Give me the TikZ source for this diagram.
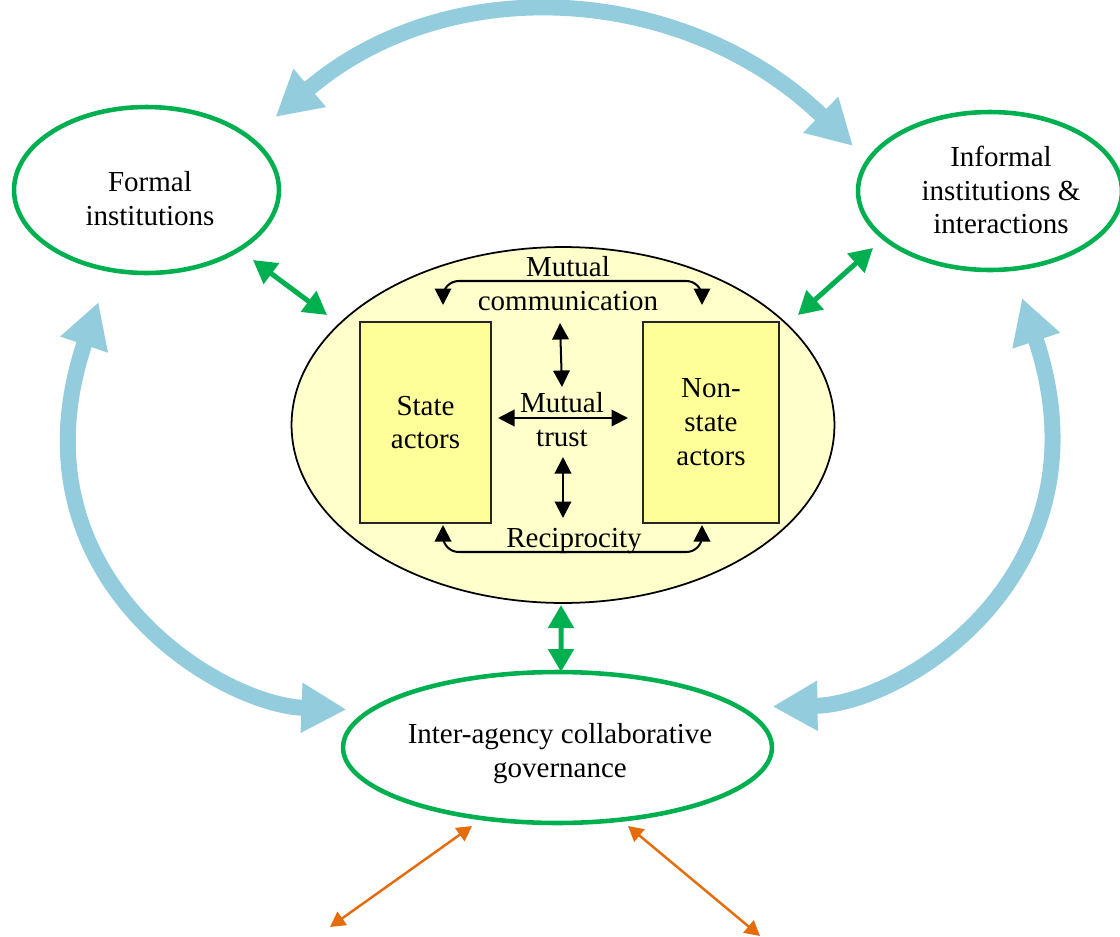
\documentclass[tikz,border=0pt]{standalone}
\usepackage{fontspec}
\setmainfont{Liberation Serif}
\usetikzlibrary{arrows.meta,shapes.geometric}
\definecolor{linkblue}{HTML}{93CDDD}
\definecolor{ringgreen}{HTML}{00B050}
\definecolor{outorange}{HTML}{E46C0A}
\definecolor{corefill}{HTML}{FFFFCC}
\definecolor{actorfill}{HTML}{FFFF99}
\begin{document}
\begin{tikzpicture}[x=0.02cm,y=-0.02cm,
  every node/.style={font=\fontsize{16.5}{19.3}\selectfont},
  ring/.style={ellipse, draw=ringgreen, line width=2.6pt, inner sep=0pt},
  lbl/.style={align=center, inner sep=0pt},
  actor/.style={rectangle, draw=black!85, line width=0.9pt, fill=actorfill, align=center, inner sep=0pt},
  bigarrow/.style={draw=linkblue, line width=9.1pt, {Triangle[length=0.9cm,width=0.94cm]}-{Triangle[length=0.9cm,width=0.94cm]}},
  greenarrow/.style={draw=ringgreen, line width=2.85pt, {Triangle[length=0.46cm,width=0.5cm]}-{Triangle[length=0.46cm,width=0.5cm]}},
  outarrow/.style={draw=outorange, line width=1.4pt, {Triangle[length=0.3cm,width=0.32cm]}-{Triangle[length=0.3cm,width=0.32cm]}},
  thinarrow/.style={draw=black, line width=1.15pt, {Triangle[length=0.33cm,width=0.33cm]}-{Triangle[length=0.33cm,width=0.33cm]}}
]
\useasboundingbox (0,0) rectangle (1120,937);

% outer institutional rings
\node[ring, minimum width=5.3cm, minimum height=3.32cm] (formal) at (146.5,190) {};
\node[ring, minimum width=5.28cm, minimum height=3.16cm] (informal) at (990,191) {};
\node[ring, minimum width=8.58cm, minimum height=3.02cm] (bottom) at (557.5,747.5) {};

\node[lbl] (formaltxt) at (150,199) {Formal\\institutions};
\node[lbl] (informaltxt) at (1001,190) {Informal\\institutions \&\\interactions};
\node[lbl] (bottomtxt) at (560,754) {Inter-agency collaborative\\governance};

% central actor field
\node[ellipse, draw=black, line width=1pt, fill=corefill, minimum width=10.86cm, minimum height=7.12cm, inner sep=0pt] (core) at (563,425) {};
\node[actor, minimum width=2.62cm, minimum height=4.02cm] (state) at (425.5,422.5) {State\\actors};
\node[actor, minimum width=2.72cm, minimum height=4.02cm] (nonstate) at (711,422.5) {Non-\\state\\actors};

\node[lbl] (comm) at (568,284) {Mutual\\communication};
\node[lbl] (trust) at (562,420) {Mutual\\trust};
\node[lbl] (reci) at (574,541) {Reciprocity};

% broad feedback loops between the rings
\draw[bigarrow] ([shift={(129,-73)}]formal.center) .. controls +(176,-150) and +(-165,-160) .. ([shift={(-137,-45)}]informal.center);
\draw[bigarrow] ([shift={(-48,112)}]formal.center) .. controls +(-92,272) and +(-130,-5) .. ([shift={(-211,-38)}]bottom.center);
\draw[bigarrow] ([shift={(32,107)}]informal.center) .. controls +(92,276) and +(130,-2) .. ([shift={(215,-41)}]bottom.center);

% links from the rings to the actor field
\draw[greenarrow] ([shift={(106.5,70)}]formal.center) -- ([shift={(-236,-110)}]core.center);
\draw[greenarrow] ([shift={(-117,57)}]informal.center) -- ([shift={(235,-110)}]core.center);
\draw[greenarrow] ([shift={(-2,180)}]core.center) -- ([shift={(3.5,-75.5)}]bottom.center);

% outward links
\coordinate (outL) at (330,927);
\coordinate (outR) at (760,936);
\draw[outarrow] ([shift={(-85.5,78.5)}]bottom.center) -- (outL);
\draw[outarrow] ([shift={(70.5,78.5)}]bottom.center) -- (outR);

% interactions between the actors
\draw[thinarrow, rounded corners=9pt] ([shift={(17.5,-117.5)}]state.center) -- ++(0,-24) -| ([shift={(-9,-117.5)}]nonstate.center);
\draw[thinarrow, rounded corners=9pt] ([shift={(17.5,102.5)}]state.center) -- ++(0,27) -| ([shift={(-9,102.5)}]nonstate.center);
\draw[thinarrow] ([shift={(-2,-97)}]trust.center) -- ([shift={(0,-33)}]trust.center);
\draw[thinarrow] ([shift={(1,37)}]trust.center) -- ([shift={(1,98)}]trust.center);
\draw[thinarrow] ([shift={(72.5,-4.5)}]state.center) -- ([shift={(-83,-4.5)}]nonstate.center);
\end{tikzpicture}
\end{document}
